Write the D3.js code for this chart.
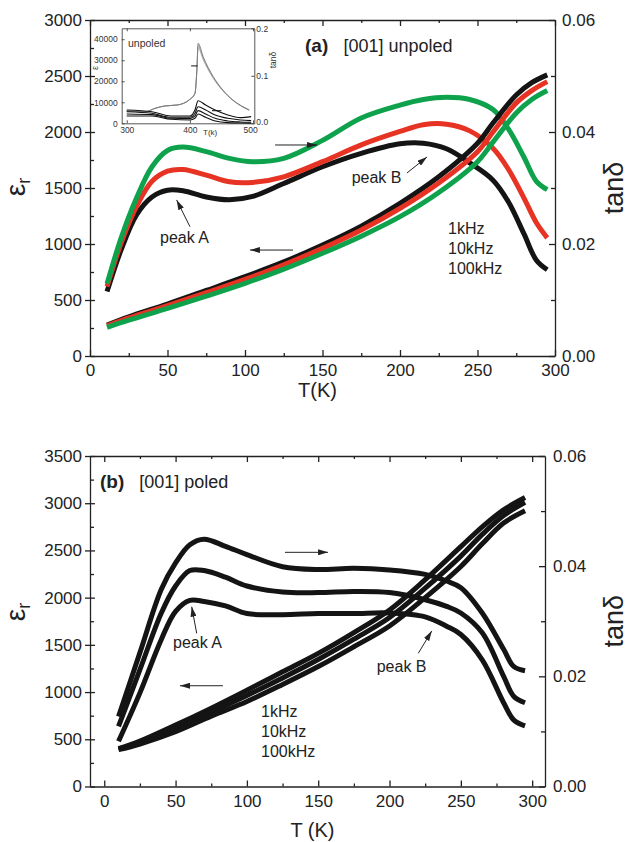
<!DOCTYPE html>
<html>
<head>
<meta charset="utf-8">
<script src="https://cdn.jsdelivr.net/npm/d3@7"></script>
<style>
  body { margin: 0; background: #fff; }
  svg { display: block; font-family: "Liberation Sans", Arial, sans-serif; }
  .axis path, .axis line { stroke: #222; stroke-width: 1.3; fill: none; }
  .axis text { font-size: 17px; fill: #222; }
  .inset .axis path, .inset .axis line { stroke: #444; stroke-width: 0.9; }
  .inset .axis text { font-size: 8.5px; fill: #333; }
  .note { font-size: 16px; fill: #222; }
</style>
</head>
<body>
<svg id="chart" width="628" height="842"></svg>
<script>
// ---- panel (a): [001] unpoled ----
var tEpsA   = [11, 25, 50, 75, 100, 125, 150, 175, 200, 225, 250, 260, 275, 285, 295];
var epsA1k  = [277, 350, 464, 585, 708, 840, 991, 1160, 1363, 1600, 1899, 2080, 2330, 2440, 2510];
var epsA10k = [270, 340, 450, 565, 684, 815, 961, 1125, 1318, 1545, 1824, 2000, 2260, 2370, 2450];
var epsA100k= [256, 320, 425, 535, 649, 775, 917, 1070, 1244, 1460, 1735, 1910, 2170, 2290, 2370];

var tTanA   = [11, 20, 30, 40, 50, 60, 75, 90, 105, 125, 150, 175, 200, 215, 230, 245, 260, 270, 280, 288, 295];
var tanA1k  = [0.0115, 0.0189, 0.0252, 0.0284, 0.0296, 0.0295, 0.0284, 0.0279, 0.0285, 0.0308, 0.0338, 0.0362, 0.0379, 0.0380, 0.0370, 0.0345, 0.0314, 0.0275, 0.0218, 0.0171, 0.0154];
var tanA10k = [0.0124, 0.0201, 0.0267, 0.0312, 0.0330, 0.0333, 0.0323, 0.0311, 0.0310, 0.0320, 0.0347, 0.0377, 0.0401, 0.0413, 0.0414, 0.0402, 0.0371, 0.0333, 0.0282, 0.0238, 0.0211];
var tanA100k= [0.0129, 0.0210, 0.0282, 0.0338, 0.0367, 0.0373, 0.0365, 0.0353, 0.0347, 0.0353, 0.0385, 0.0425, 0.0448, 0.0458, 0.0462, 0.0458, 0.0440, 0.0405, 0.0355, 0.0312, 0.0297];

// inset of (a): high temperature range
var tInsetGray = [300, 315, 330, 345, 360, 380, 400, 408, 411, 413, 421, 437, 452, 468, 484, 494];
var insetGray1 = [5800, 5600, 5520, 7140, 8240, 8710, 11400, 14300, 25400, 38100, 31700, 22200, 15900, 11100, 7900, 6330];
var insetGray2 = [5800, 5600, 5520, 7140, 8240, 8710, 11400, 14200, 25000, 37000, 31000, 21800, 15700, 11000, 7800, 6300];
var insetGray3 = [5800, 5600, 5520, 7140, 8240, 8710, 11400, 14100, 24600, 36000, 30300, 21400, 15500, 10900, 7700, 6250];
var tInsetBlk = [300, 340, 370, 400, 408, 413, 425, 440, 460, 480, 497];
var insetBlk1 = [0.0280, 0.0244, 0.0154, 0.0154, 0.0280, 0.0476, 0.0385, 0.0280, 0.0175, 0.0119, 0.0140];
var insetBlk2 = [0.0244, 0.0210, 0.0126, 0.0126, 0.0210, 0.0350, 0.0280, 0.0175, 0.0105, 0.0070, 0.0056];
var insetBlk3 = [0.0196, 0.0182, 0.0105, 0.0098, 0.0154, 0.0266, 0.0196, 0.0105, 0.0049, 0.0028, 0.0021];
var insetBlk4 = [0.0154, 0.0154, 0.0084, 0.0070, 0.0105, 0.0196, 0.0126, 0.0049, 0.0014, 0.0007, 0.0000];

// ---- panel (b): [001] poled ----
var tEpsB   = [10, 25, 50, 75, 100, 125, 150, 175, 200, 225, 250, 265, 280, 295];
var epsB1   = [400, 480, 650, 830, 1020, 1215, 1410, 1630, 1870, 2190, 2540, 2750, 2930, 3060];
var epsB2   = [395, 465, 615, 790, 965, 1150, 1345, 1560, 1790, 2100, 2440, 2670, 2870, 3010];
var epsB3   = [390, 450, 580, 745, 900, 1080, 1270, 1480, 1700, 2000, 2330, 2570, 2790, 2920];

var tTanB   = [10, 25, 40, 50, 60, 70, 85, 100, 125, 150, 175, 200, 225, 240, 250, 265, 280, 287, 295];
var tanB1   = [0.0127, 0.0243, 0.0358, 0.0406, 0.0439, 0.0449, 0.0436, 0.0421, 0.0399, 0.0394, 0.0396, 0.0393, 0.0385, 0.0373, 0.0361, 0.0315, 0.0249, 0.0218, 0.0210];
var tanB2   = [0.0109, 0.0212, 0.0315, 0.0364, 0.0392, 0.0392, 0.0380, 0.0364, 0.0353, 0.0352, 0.0354, 0.0352, 0.0339, 0.0327, 0.0315, 0.0279, 0.0200, 0.0164, 0.0152];
var tanB3   = [0.0082, 0.0170, 0.0267, 0.0318, 0.0338, 0.0336, 0.0328, 0.0314, 0.0312, 0.0314, 0.0314, 0.0315, 0.0308, 0.0291, 0.0276, 0.0230, 0.0152, 0.0121, 0.0110];

var freqLabels = ["1kHz", "10kHz", "100kHz"];

var BLACK = "#141414", RED = "#e63323", GREEN = "#0ea24c";

var svg = d3.select("#chart");

svg.append("defs").append("marker")
    .attr("id", "head")
    .attr("viewBox", "0 0 10 6")
    .attr("refX", 10).attr("refY", 3)
    .attr("markerWidth", 10).attr("markerHeight", 6)
    .attr("markerUnits", "userSpaceOnUse")
    .attr("orient", "auto")
  .append("path")
    .attr("d", "M0,0 L10,3 L0,6 Z")
    .attr("fill", "#222");

function zipXY(ts, vs) {
  return ts.map((t, i) => [t, vs[i]]);
}

function drawPanel(p) {
  var g = svg.append("g");

  var x = d3.scaleLinear().domain(p.xDomain).range([p.left, p.right]);
  var yL = d3.scaleLinear().domain([0, p.epsMax]).range([p.bottom, p.top]);
  var yR = d3.scaleLinear().domain([0, 0.06]).range([p.bottom, p.top]);

  var xMajor = d3.range(0, 301, 50), xMinor = d3.range(25, 300, 50);

  // bottom
  g.append("g").attr("class", "axis")
    .attr("transform", "translate(0," + p.bottom + ")")
    .call(d3.axisBottom(x).tickValues(xMajor).tickSize(-6).tickSizeOuter(0).tickPadding(8).tickFormat(d3.format("d")));
  g.append("g").attr("class", "axis")
    .attr("transform", "translate(0," + p.bottom + ")")
    .call(d3.axisBottom(x).tickValues(xMinor).tickSize(-3).tickFormat(""))
    .select(".domain").remove();
  // top
  g.append("g").attr("class", "axis")
    .attr("transform", "translate(0," + p.top + ")")
    .call(d3.axisTop(x).tickValues(xMajor).tickSize(-6).tickSizeOuter(0).tickFormat(""));
  g.append("g").attr("class", "axis")
    .attr("transform", "translate(0," + p.top + ")")
    .call(d3.axisTop(x).tickValues(xMinor).tickSize(-3).tickFormat(""))
    .select(".domain").remove();

  // left (epsilon)
  var left = g.append("g").attr("class", "axis")
    .attr("transform", "translate(" + p.left + ",0)")
    .call(d3.axisLeft(yL).tickValues(d3.range(0, p.epsMax + 1, 500)).tickSize(5).tickSizeOuter(0)
      .tickPadding(3).tickFormat(d3.format("d")));
  left.selectAll(".tick").append("line").attr("x2", 5).attr("stroke", "#222");
  g.append("g").attr("class", "axis")
    .attr("transform", "translate(" + p.left + ",0)")
    .call(d3.axisLeft(yL).tickValues(d3.range(250, p.epsMax, 500)).tickSize(-4).tickFormat(""))
    .select(".domain").remove();

  // right (tan delta)
  g.append("g").attr("class", "axis")
    .attr("transform", "translate(" + p.right + ",0)")
    .call(d3.axisRight(yR).tickValues([0, 0.02, 0.04, 0.06]).tickSize(-6).tickSizeOuter(0)
      .tickPadding(p.rightPad).tickFormat(d3.format(".2f")));
  g.append("g").attr("class", "axis")
    .attr("transform", "translate(" + p.right + ",0)")
    .call(d3.axisRight(yR).tickValues([0.01, 0.03, 0.05]).tickSize(-4).tickFormat(""))
    .select(".domain").remove();

  // axis titles
  g.append("text")
    .attr("x", (p.left + p.right) / 2 - 5).attr("y", p.xTitleY)
    .attr("text-anchor", "middle").style("font-size", "20px").attr("fill", "#222")
    .text(p.xTitle);

  var et = g.append("text")
    .attr("transform", "translate(25," + p.epsTitleY + ") rotate(-90)")
    .attr("text-anchor", "middle").attr("fill", "#222");
  et.append("tspan").style("font-size", "28px").text("ε");
  et.append("tspan").style("font-size", "18px").attr("dy", 5).text("r");

  g.append("text")
    .attr("transform", "translate(623," + yR(0.03) + ") rotate(-90)")
    .attr("text-anchor", "middle").style("font-size", "27px").attr("fill", "#222")
    .text("tanδ");

  // curves
  var lineL = d3.line().x(d => x(d[0])).y(d => yL(d[1])).curve(d3.curveCatmullRom.alpha(0.5));
  var lineR = d3.line().x(d => x(d[0])).y(d => yR(d[1])).curve(d3.curveCatmullRom.alpha(0.5));

  p.tanSeries.forEach(s => {
    g.append("path").datum(zipXY(p.tTan, s.v))
      .attr("d", lineR).attr("fill", "none")
      .attr("stroke", s.color).attr("stroke-width", 5);
  });
  p.epsSeries.forEach(s => {
    g.append("path").datum(zipXY(p.tEps, s.v))
      .attr("d", lineL).attr("fill", "none")
      .attr("stroke", s.color).attr("stroke-width", 5);
  });

  // annotations (placed in data units)
  var t = p.title;
  g.append("text").attr("x", x(t.x)).attr("y", yL(t.y))
    .style("font-size", "19px").style("font-weight", "bold").attr("fill", "#222").text(t.tag);
  g.append("text").attr("x", x(t.x2)).attr("y", yL(t.y))
    .style("font-size", "18px").attr("fill", "#222").text(t.text);

  p.notes.forEach(n => {
    g.append("text").attr("class", "note").attr("x", x(n.x)).attr("y", yL(n.y)).text(n.text);
  });
  p.arrows.forEach(a => {
    g.append("line")
      .attr("x1", x(a[0])).attr("y1", yL(a[1]))
      .attr("x2", x(a[2])).attr("y2", yL(a[3]))
      .attr("stroke", "#222").attr("stroke-width", 1)
      .attr("marker-end", "url(#head)");
  });
  p.freqY.forEach((fy, i) => {
    g.append("text").attr("class", "note").attr("x", x(p.freqX)).attr("y", yL(fy)).text(freqLabels[i]);
  });
}

drawPanel({
  left: 90, right: 555, top: 20, bottom: 356, xDomain: [0, 300], epsMax: 3000,
  rightPad: 7, xTitle: "T(K)", xTitleY: 397, epsTitleY: 187,
  tEps: tEpsA, tTan: tTanA,
  epsSeries: [{v: epsA1k, color: BLACK}, {v: epsA10k, color: RED}, {v: epsA100k, color: GREEN}],
  tanSeries: [{v: tanA1k, color: BLACK}, {v: tanA10k, color: RED}, {v: tanA100k, color: GREEN}],
  title: {tag: "(a)", text: "[001] unpoled", x: 138.7, x2: 163.5, y: 2714},
  notes: [{text: "peak A", x: 45.2, y: 1009}, {text: "peak B", x: 168.8, y: 1545}],
  arrows: [[64.5, 1154, 55.9, 1393], [204.5, 1634, 217.4, 1777], [119.4, 1884, 146.5, 1884], [131, 946, 103.2, 946]],
  freqX: 231, freqY: [1087, 908, 729]
});

drawPanel({
  left: 90, right: 545, top: 456, bottom: 786.5, xDomain: [-10, 309], epsMax: 3500,
  rightPad: 8, xTitle: "T (K)", xTitleY: 837, epsTitleY: 612,
  tEps: tEpsB, tTan: tTanB,
  epsSeries: [{v: epsB1, color: BLACK}, {v: epsB2, color: BLACK}, {v: epsB3, color: BLACK}],
  tanSeries: [{v: tanB1, color: BLACK}, {v: tanB2, color: BLACK}, {v: tanB3, color: BLACK}],
  title: {tag: "(b)", text: "[001] poled", x: -3, x2: 24.5, y: 3164},
  notes: [{text: "peak A", x: 48.2, y: 1467}, {text: "peak B", x: 191, y: 1213}],
  arrows: [[64.8, 1622, 61.3, 1904], [220.2, 1411, 229.6, 1647], [126.7, 2480, 156.9, 2480], [83.2, 1067, 53.1, 1067]],
  freqX: 109.9, freqY: [739, 527, 316]
});

// ---- inset ----
(function () {
  var L = 121.7, R = 254.3, Tp = 28.3, B = 123.3;
  var g = svg.append("g").attr("class", "inset");
  g.append("rect").attr("x", L).attr("y", Tp).attr("width", R - L).attr("height", B - Tp).attr("fill", "#fff");

  var x = d3.scaleLinear().domain([292, 502]).range([L, R]);
  var yL = d3.scaleLinear().domain([0, 45200]).range([B, Tp]);
  var yR = d3.scaleLinear().domain([0, 0.2]).range([B, Tp]);

  var bx = g.append("g").attr("class", "axis").attr("transform", "translate(0," + B + ")")
    .call(d3.axisBottom(x).tickValues([300, 400, 500]).tickSize(-3).tickSizeOuter(0).tickPadding(4).tickFormat(d3.format("d")));
  bx.selectAll(".tick text").filter(d => d === 500).attr("dx", -3);
  g.append("g").attr("class", "axis").attr("transform", "translate(0," + Tp + ")")
    .call(d3.axisTop(x).tickValues([300, 400, 500]).tickSize(-3).tickSizeOuter(0).tickFormat(""));
  g.append("g").attr("class", "axis").attr("transform", "translate(" + L + ",0)")
    .call(d3.axisLeft(yL).tickValues(d3.range(0, 40001, 10000)).tickSize(-3).tickSizeOuter(0)
      .tickPadding(4).tickFormat(d3.format("d")));
  var ry = g.append("g").attr("class", "axis").attr("transform", "translate(" + R + ",0)")
    .call(d3.axisRight(yR).tickValues([0, 0.1, 0.2]).tickSize(-3).tickSizeOuter(0).tickPadding(2).tickFormat(d3.format(".1f")));
  ry.selectAll(".tick text").filter(d => d === 0).attr("dy", "0.1em");

  g.append("text").attr("transform", "translate(98,68) rotate(-90)")
    .attr("text-anchor", "middle").style("font-size", "9px").attr("fill", "#333").text("ε");
  g.append("text").attr("transform", "translate(276,60) rotate(-90)")
    .attr("text-anchor", "middle").style("font-size", "8.5px").attr("fill", "#333").text("tanδ");
  g.append("text").attr("x", 203).attr("y", 135).style("font-size", "8px").attr("fill", "#333").text("T(k)");
  g.append("text").attr("x", 128).attr("y", 47).style("font-size", "10.5px").attr("fill", "#333").text("unpoled");

  var lineL = d3.line().x(d => x(d[0])).y(d => yL(d[1])).curve(d3.curveMonotoneX);
  var lineR = d3.line().x(d => x(d[0])).y(d => yR(d[1])).curve(d3.curveMonotoneX);

  [insetGray3, insetGray2, insetGray1].forEach((s, i) => {
    g.append("path").datum(zipXY(tInsetGray, s)).attr("d", lineL)
      .attr("fill", "none").attr("stroke", ["#aaa", "#999", "#777"][i]).attr("stroke-width", 0.9);
  });
  [insetBlk1, insetBlk2, insetBlk3, insetBlk4].forEach(s => {
    g.append("path").datum(zipXY(tInsetBlk, s)).attr("d", lineR)
      .attr("fill", "none").attr("stroke", "#111").attr("stroke-width", 1.1);
  });

  // small direction marks
  g.append("line").attr("x1", x(402)).attr("x2", x(412)).attr("y1", yL(27300)).attr("y2", yL(27300))
    .attr("stroke", "#111").attr("stroke-width", 1);
  g.append("line").attr("x1", x(435)).attr("x2", x(450)).attr("y1", yR(0.0265)).attr("y2", yR(0.0265))
    .attr("stroke", "#111").attr("stroke-width", 1);
})();
</script>
</body>
</html>
